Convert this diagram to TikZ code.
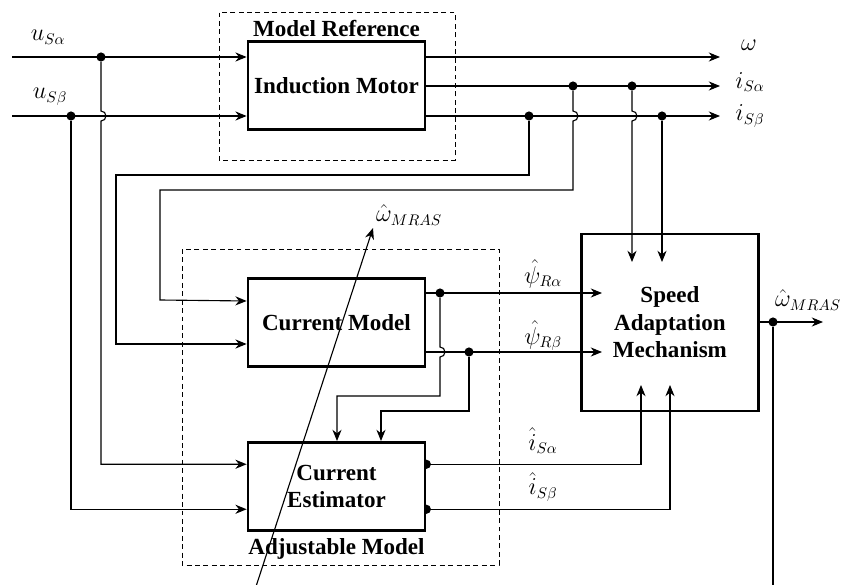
\documentclass[tikz,border=0pt]{standalone}
\usepackage{fontspec}
\setmainfont{Liberation Serif}
\usetikzlibrary{positioning,arrows.meta,calc,backgrounds}
\tikzset{
  block-box/.style={draw,line width=1.8pt,fill=white,minimum width=4.43cm,
    minimum height=2.2cm,align=center,font=\fontsize{16.4}{19.5}\selectfont\bfseries},
  group-box/.style={draw,line width=0.7pt,dash pattern=on 3.5pt off 2.5pt},
  group-title/.style={font=\fontsize{16.4}{19.5}\selectfont\bfseries,inner sep=2pt},
  sig-label/.style={font=\fontsize{16}{19}\selectfont,inner sep=1pt},
  wire/.style={line width=0.8pt},
  arrow/.style={wire,-{Stealth[length=8pt,width=6.5pt]}},
  junction/.style={circle,fill,inner sep=0pt,minimum size=6.5pt},
}

\begin{document}
\begin{tikzpicture}[x=0.025cm,y=-0.025cm]
  \useasboundingbox (0,0) rectangle (843,585);
  % blocks
  \node[block-box] (im) at (336.5,85.5) {Induction Motor};
  \node[block-box,below=3.66cm of im] (cm) {Current Model};
  \node[block-box,below=1.83cm of cm] (ce) {Current\\Estimator};
  \node[block-box,right=3.84cm of cm,minimum height=4.43cm] (sam)
    {Speed\\Adaptation\\Mechanism};
  \node[group-title,above=0pt of im] (mr-title) {Model Reference};
  \node[group-title,below=1mm of ce] (am-title) {Adjustable Model};
  \draw[group-box] (219,12.5) rectangle (455,160);
  \draw[group-box] (182,249) rectangle (499,565);

  % stator voltages
  \coordinate (usa) at (12,57);
  \coordinate (usb) at (12,116);
  \node[sig-label] (lbl-usa) at (48,37) {$u_{S\alpha}$};
  \node[sig-label] (lbl-usb) at (50,97) {$u_{S\beta}$};
  \draw[arrow] (usa) -- (usa -| im.west);
  \draw[arrow] (usb) -- (usb -| im.west);
  \node[junction] (j-usa) at (101,57) {};
  \node[junction] (j-usb) at (71,116) {};

  % motor outputs
  \coordinate (w-end) at (720,57);
  \coordinate (isa-end) at (720,86);
  \coordinate (isb-end) at (720,116);
  \draw[arrow] (im.east |- w-end) -- (w-end);
  \draw[arrow] (im.east |- isa-end) -- (isa-end);
  \draw[arrow] (im.east |- isb-end) -- (isb-end);
  \node[sig-label] (lbl-w) at (749,45) {$\omega$};
  \node[sig-label] (lbl-isa) at (750,82) {$i_{S\alpha}$};
  \node[sig-label] (lbl-isb) at (750,116) {$i_{S\beta}$};
  \node[junction] (j-isb1) at (529,116) {};
  \node[junction] (j-isa1) at (573,86) {};
  \node[junction] (j-isa2) at (632,86) {};
  \node[junction] (j-isb2) at (662,116) {};

  % current model
  \coordinate (cm-in-a) at ($(cm.west)+(0,-21.5)$);
  \coordinate (cm-in-b) at ($(cm.west)+(0,21.5)$);
  \draw[arrow] (j-isb1) |- (116,175) |- (cm-in-b);
  \draw[arrow] (j-isa1) -- (573,111) arc[start angle=90,end angle=-90,radius=3.56pt]
    -- (573,190) -| (160,300) -- (cm-in-a);
  \coordinate (psa-end) at (602,293);
  \coordinate (psb-end) at (602,352);
  \draw[arrow] (cm.east |- psa-end) -- (psa-end);
  \draw[arrow] (cm.east |- psb-end) -- (psb-end);
  \node[sig-label] (lbl-psa) at (543,274) {$\hat{\psi}_{R\alpha}$};
  \node[sig-label] (lbl-psb) at (543,336) {$\hat{\psi}_{R\beta}$};
  \node[junction] (j-psa) at (440,293) {};
  \node[junction] (j-psb) at (469,352) {};

  % current estimator
  \coordinate (ce-in-a) at ($(ce.north)+(0.5,0)$);
  \coordinate (ce-in-b) at ($(ce.north)+(44.5,0)$);
  \coordinate (ce-in-c) at ($(ce.west)+(0,-22)$);
  \coordinate (ce-in-d) at ($(ce.west)+(0,23)$);
  \draw[arrow] (j-psa) -- (440,347) arc[start angle=90,end angle=-90,radius=3.56pt]
    -- (440,396) -| (ce-in-a);
  \draw[arrow] (j-psb) -- (469,411) -| (ce-in-b);
  \draw[arrow] (j-usa) -- (101,111) arc[start angle=90,end angle=-90,radius=3.56pt]
    |- (ce-in-c);
  \draw[arrow] (j-usb) |- (ce-in-d);
  \begin{pgfonlayer}{background}
    \node[junction] (j-ce-a) at (ce.east |- ce-in-c) {};
    \node[junction] (j-ce-b) at (ce.east |- ce-in-d) {};
  \end{pgfonlayer}

  % speed adaptation inputs / output
  \coordinate (sam-in-a) at (632,262);
  \coordinate (sam-in-b) at (662,262);
  \coordinate (sam-in-c) at (641,385);
  \coordinate (sam-in-d) at (670,385);
  \draw[arrow] (j-isa2) -- (632,111) arc[start angle=90,end angle=-90,radius=3.56pt]
    -- (sam-in-a);
  \draw[arrow] (j-isb2) -- (sam-in-b);
  \draw[arrow] (j-ce-a) -| (sam-in-c);
  \draw[arrow] (j-ce-b) -| (sam-in-d);
  \node[sig-label] (lbl-ia) at (543,441) {$\hat{i}_{S\alpha}$};
  \node[sig-label] (lbl-ib) at (543,487) {$\hat{i}_{S\beta}$};
  \coordinate (wm-end) at (823,322);
  \coordinate (wm-fb) at (773,585);
  \draw[arrow] (sam.east |- wm-end) -- (wm-end);
  \node[junction] (j-wm) at (773,322) {};
  \draw[wire] (j-wm) -- (wm-fb);
  \node[sig-label] (lbl-wm) at (808,300) {$\hat{\omega}_{MRAS}$};

  % adaptation of the adjustable model
  \coordinate (tune-start) at (256.5,585);
  \coordinate (tune-end) at (373,228);
  \draw[arrow] (tune-start) -- (tune-end);
  \node[sig-label] (lbl-tune) at (409,215) {$\hat{\omega}_{MRAS}$};
\end{tikzpicture}
\end{document}
